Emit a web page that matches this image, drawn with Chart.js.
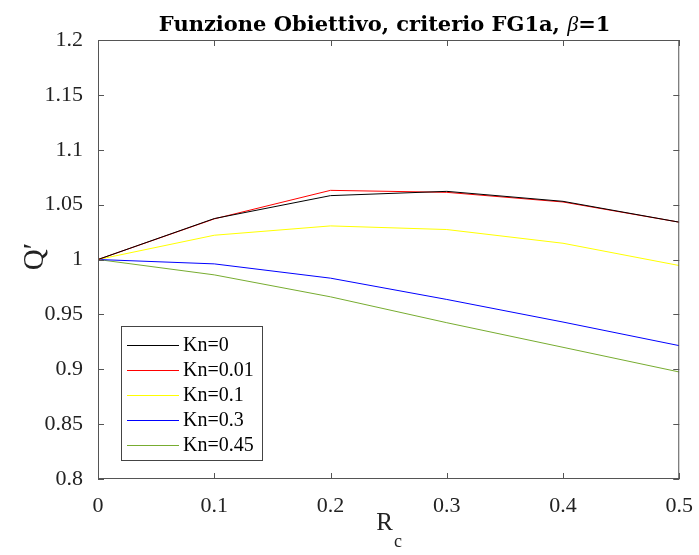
<!DOCTYPE html>
<html>
<head>
<meta charset="utf-8">
<script src="https://cdn.jsdelivr.net/npm/chart.js@4/dist/chart.umd.min.js"></script>
<style>
  html, body { margin: 0; padding: 0; background: #fff; }
  #wrap { width: 699px; height: 555px; }
</style>
</head>
<body>
<div id="wrap"><canvas id="fgChart" width="699" height="555"></canvas></div>
<script>
// Rc values along the x axis
const rc = [0, 0.1, 0.2, 0.3, 0.4, 0.5];

// Q' for each Knudsen number
const kn0    = [1, 1.0373, 1.0582, 1.0621, 1.0530, 1.0340];
const kn001  = [1, 1.0370, 1.0630, 1.0612, 1.0524, 1.0340];
const kn01   = [1, 1.0221, 1.0306, 1.0273, 1.0148, 0.9945];
const kn03   = [1, 0.9960, 0.9830, 0.9636, 0.9430, 0.9215];
const kn045  = [1, 0.9860, 0.9660, 0.9424, 0.9200, 0.8975];

const seriesNames = ["Kn=0", "Kn=0.01", "Kn=0.1", "Kn=0.3", "Kn=0.45"];
const seriesColors = ["#000000", "#ff0000", "#ffff00", "#0000ff", "#77ac30"];
const seriesValues = [kn0, kn001, kn01, kn03, kn045];

const SERIF = '"Liberation Serif", serif';
const TITLE_FONT = '"DejaVu Serif", serif';
const AXIS_COLOR = "#555555";

const datasets = seriesValues.map((vals, i) => ({
    label: seriesNames[i],
    data: vals.map((v, j) => ({ x: rc[j], y: v })),
    borderColor: seriesColors[i],
    backgroundColor: seriesColors[i],
    borderWidth: 1,
    pointRadius: 0,
    tension: 0,
}));

// box, inward ticks, title, axis labels and legend drawn on top
const matlabLook = {
    id: "matlabLook",
    afterDraw(chart) {
        const ctx = chart.ctx;
        const a = chart.chartArea;
        const xs = chart.scales.x, ys = chart.scales.y;
        ctx.save();
        ctx.strokeStyle = AXIS_COLOR;
        ctx.lineWidth = 1;
        ctx.strokeRect(a.left + 0.5, a.top + 0.5, a.right - a.left - 1, a.bottom - a.top - 1);
        const tl = 6;
        ctx.beginPath();
        xs.ticks.forEach(t => {
            const px = Math.round(xs.getPixelForValue(t.value)) + 0.5;
            ctx.moveTo(px, a.bottom); ctx.lineTo(px, a.bottom - tl);
            ctx.moveTo(px, a.top); ctx.lineTo(px, a.top + tl);
        });
        ys.ticks.forEach(t => {
            const py = Math.round(ys.getPixelForValue(t.value)) + 0.5;
            ctx.moveTo(a.left, py); ctx.lineTo(a.left + tl, py);
            ctx.moveTo(a.right, py); ctx.lineTo(a.right - tl, py);
        });
        ctx.stroke();

        // title with italic beta
        const parts = [
            { t: "Funzione Obiettivo, criterio FG1a, ", f: "bold 21px " + TITLE_FONT },
            { t: "\u03b2", f: "italic 22px " + SERIF },
            { t: "=1", f: "bold 21px " + TITLE_FONT },
        ];
        let total = 0;
        parts.forEach(p => { ctx.font = p.f; p.w = ctx.measureText(p.t).width; total += p.w; });
        let x = (a.left + a.right) / 2 - total / 2 - 4;
        ctx.fillStyle = "#000";
        ctx.textBaseline = "alphabetic";
        ctx.textAlign = "left";
        parts.forEach(p => { ctx.font = p.f; ctx.fillText(p.t, x, 31); x += p.w; });

        // y label
        ctx.save();
        ctx.translate(43, (a.top + a.bottom) / 2 - 3);
        ctx.rotate(-Math.PI / 2);
        ctx.font = "29px " + SERIF;
        ctx.textAlign = "center";
        ctx.fillStyle = "#222";
        ctx.fillText("Q\u2032", 0, 0);
        ctx.restore();

        // x label with subscript
        ctx.font = "25px " + SERIF;
        ctx.fillStyle = "#222";
        const rw = ctx.measureText("R").width;
        ctx.font = "18px " + SERIF;
        const cw = ctx.measureText("c").width;
        const cx = (a.left + a.right) / 2 - (rw + cw) / 2;
        ctx.font = "25px " + SERIF;
        ctx.fillText("R", cx, 530);
        ctx.font = "18px " + SERIF;
        ctx.fillText("c", cx + rw + 1, 547);

        // legend box, lower left
        const lx = a.left + 23, ly = 326, lw = 141, lh = 134;
        ctx.fillStyle = "#fff";
        ctx.fillRect(lx, ly, lw, lh);
        ctx.strokeStyle = "#444";
        ctx.strokeRect(lx + 0.5, ly + 0.5, lw, lh);
        ctx.font = "20px " + SERIF;
        ctx.textBaseline = "middle";
        chart.data.datasets.forEach((ds, i) => {
            const yy = ly + 19 + i * 25;
            ctx.strokeStyle = ds.borderColor;
            ctx.beginPath();
            ctx.moveTo(lx + 6, yy + 0.5); ctx.lineTo(lx + 58, yy + 0.5);
            ctx.stroke();
            ctx.fillStyle = "#000";
            ctx.fillText(ds.label, lx + 62, yy + 1);
        });
        ctx.restore();
    }
};

new Chart(document.getElementById("fgChart"), {
    type: "line",
    data: { datasets: datasets },
    options: {
        responsive: false,
        animation: false,
        events: [],
        layout: { padding: { top: 40, right: 19, left: 0, bottom: 0 } },
        plugins: { legend: { display: false }, title: { display: false }, tooltip: { enabled: false } },
        scales: {
            x: {
                type: "linear",
                min: 0, max: 0.5,
                border: { display: false },
                grid: { display: false },
                afterFit(s) { s.height = 76; },
                ticks: {
                    stepSize: 0.1,
                    maxRotation: 0,
                    padding: 6,
                    color: "#222",
                    font: { family: SERIF, size: 22 },
                    callback: v => Number(v.toFixed(2)).toString(),
                },
            },
            y: {
                min: 0.8, max: 1.2,
                border: { display: false },
                grid: { display: false },
                afterFit(s) { s.width = 98; },
                ticks: {
                    stepSize: 0.05,
                    padding: 7,
                    color: "#222",
                    font: { family: SERIF, size: 22 },
                    callback: v => Number(v.toFixed(2)).toString(),
                },
            },
        },
    },
    plugins: [matlabLook],
});
</script>
</body>
</html>
